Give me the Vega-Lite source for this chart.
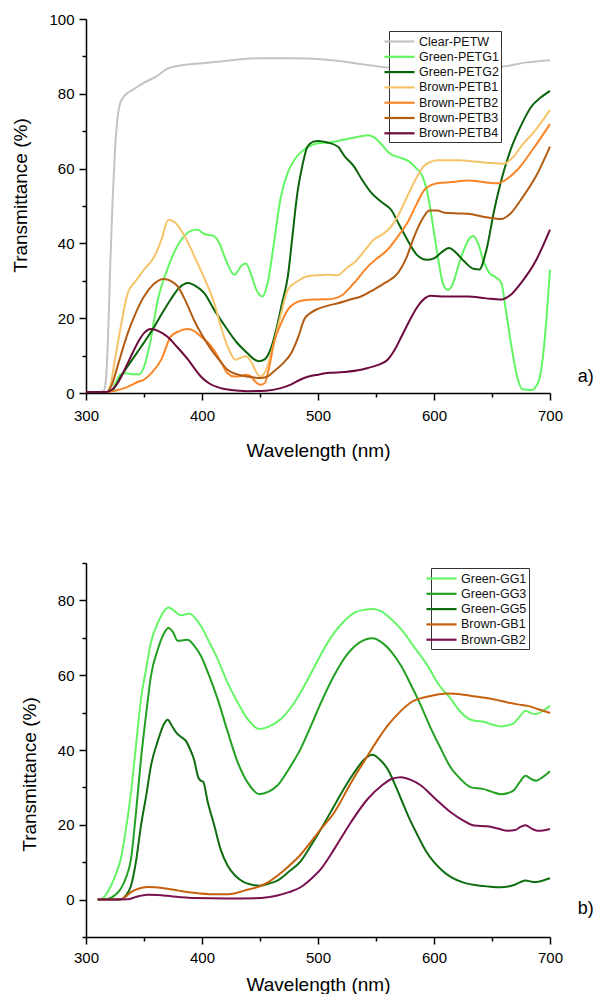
{
"$schema":"https://vega.github.io/schema/vega-lite/v6.json",
"padding":{"left":11,"top":12,"right":0,"bottom":0},
"spacing":96,
"config":{"view":{"stroke":null},"font":"Liberation Sans",
"axis":{"grid":false,"domainColor":"#000","tickColor":"#000","labelColor":"#000","titleColor":"#000","labelFontSize":15,"titleFontSize":19,"titleFontWeight":"normal","labelFont":"Liberation Sans","titleFont":"Liberation Sans","domainWidth":1.5,"tickWidth":1.5,"labelOverlap":false,"labelFlush":false},
"legend":{"orient":"none","title":null,"strokeColor":"#333","fillColor":"white","padding":2,"symbolType":"M-2.15,0H2.15","symbolSize":196,"symbolStrokeWidth":2.2,"labelFontSize":12.5,"labelFont":"Liberation Sans","labelColor":"#111","labelOffset":11,"rowPadding":0.3}},
"datasets":{
"top":[
{"s":"Clear-PETW","w":300,"t":0.3},{"s":"Clear-PETW","w":310,"t":0.3},{"s":"Clear-PETW","w":315,"t":0.5},{"s":"Clear-PETW","w":317,"t":3},{"s":"Clear-PETW","w":319,"t":15},{"s":"Clear-PETW","w":321,"t":35},{"s":"Clear-PETW","w":323,"t":52},{"s":"Clear-PETW","w":325,"t":65},{"s":"Clear-PETW","w":327,"t":73},{"s":"Clear-PETW","w":330,"t":78},{"s":"Clear-PETW","w":335,"t":80},{"s":"Clear-PETW","w":340,"t":81},{"s":"Clear-PETW","w":350,"t":83},{"s":"Clear-PETW","w":360,"t":84.5},{"s":"Clear-PETW","w":370,"t":86.7},{"s":"Clear-PETW","w":380,"t":87.5},{"s":"Clear-PETW","w":400,"t":88.2},{"s":"Clear-PETW","w":420,"t":88.8},{"s":"Clear-PETW","w":450,"t":89.5},{"s":"Clear-PETW","w":480,"t":89.5},{"s":"Clear-PETW","w":500,"t":89.3},{"s":"Clear-PETW","w":520,"t":88.7},{"s":"Clear-PETW","w":540,"t":87.8},{"s":"Clear-PETW","w":560,"t":87},{"s":"Clear-PETW","w":580,"t":86.6},{"s":"Clear-PETW","w":600,"t":86.3},{"s":"Clear-PETW","w":620,"t":86.3},{"s":"Clear-PETW","w":640,"t":86.6},{"s":"Clear-PETW","w":660,"t":87.3},{"s":"Clear-PETW","w":680,"t":88.4},{"s":"Clear-PETW","w":700,"t":89},
{"s":"Green-PETG1","w":300,"t":0.3},{"s":"Green-PETG1","w":318,"t":0.3},{"s":"Green-PETG1","w":322,"t":0.5},{"s":"Green-PETG1","w":326,"t":3},{"s":"Green-PETG1","w":330,"t":5},{"s":"Green-PETG1","w":335,"t":5.3},{"s":"Green-PETG1","w":340,"t":5},{"s":"Green-PETG1","w":346,"t":5},{"s":"Green-PETG1","w":350,"t":7},{"s":"Green-PETG1","w":355,"t":13},{"s":"Green-PETG1","w":362,"t":25},{"s":"Green-PETG1","w":370,"t":33},{"s":"Green-PETG1","w":380,"t":40},{"s":"Green-PETG1","w":390,"t":43.3},{"s":"Green-PETG1","w":396,"t":43.7},{"s":"Green-PETG1","w":402,"t":42.5},{"s":"Green-PETG1","w":410,"t":42},{"s":"Green-PETG1","w":415,"t":40},{"s":"Green-PETG1","w":420,"t":36},{"s":"Green-PETG1","w":428,"t":31.6},{"s":"Green-PETG1","w":434,"t":34},{"s":"Green-PETG1","w":438,"t":34.6},{"s":"Green-PETG1","w":442,"t":32},{"s":"Green-PETG1","w":447,"t":27.5},{"s":"Green-PETG1","w":452,"t":25.8},{"s":"Green-PETG1","w":457,"t":30},{"s":"Green-PETG1","w":462,"t":40},{"s":"Green-PETG1","w":468,"t":52.5},{"s":"Green-PETG1","w":474,"t":59},{"s":"Green-PETG1","w":480,"t":62.5},{"s":"Green-PETG1","w":490,"t":65.5},{"s":"Green-PETG1","w":500,"t":66.8},{"s":"Green-PETG1","w":510,"t":67},{"s":"Green-PETG1","w":522,"t":67.7},{"s":"Green-PETG1","w":535,"t":68.5},{"s":"Green-PETG1","w":543,"t":68.9},{"s":"Green-PETG1","w":550,"t":68},{"s":"Green-PETG1","w":556,"t":66},{"s":"Green-PETG1","w":562,"t":64},{"s":"Green-PETG1","w":570,"t":63},{"s":"Green-PETG1","w":578,"t":62},{"s":"Green-PETG1","w":585,"t":60},{"s":"Green-PETG1","w":590,"t":58},{"s":"Green-PETG1","w":594,"t":54},{"s":"Green-PETG1","w":598,"t":47},{"s":"Green-PETG1","w":603,"t":37},{"s":"Green-PETG1","w":608,"t":29},{"s":"Green-PETG1","w":612,"t":27.6},{"s":"Green-PETG1","w":616,"t":29},{"s":"Green-PETG1","w":621,"t":34},{"s":"Green-PETG1","w":626,"t":38.5},{"s":"Green-PETG1","w":631,"t":41.5},{"s":"Green-PETG1","w":634,"t":42},{"s":"Green-PETG1","w":638,"t":40},{"s":"Green-PETG1","w":643,"t":35},{"s":"Green-PETG1","w":648,"t":32},{"s":"Green-PETG1","w":653,"t":31},{"s":"Green-PETG1","w":658,"t":29.5},{"s":"Green-PETG1","w":662,"t":22},{"s":"Green-PETG1","w":667,"t":12},{"s":"Green-PETG1","w":672,"t":4},{"s":"Green-PETG1","w":676,"t":1},{"s":"Green-PETG1","w":684,"t":0.8},{"s":"Green-PETG1","w":690,"t":3},{"s":"Green-PETG1","w":694,"t":10},{"s":"Green-PETG1","w":697,"t":20},{"s":"Green-PETG1","w":700,"t":33},
{"s":"Green-PETG2","w":300,"t":0.3},{"s":"Green-PETG2","w":318,"t":0.3},{"s":"Green-PETG2","w":322,"t":0.5},{"s":"Green-PETG2","w":330,"t":4.4},{"s":"Green-PETG2","w":340,"t":9},{"s":"Green-PETG2","w":350,"t":13.5},{"s":"Green-PETG2","w":359,"t":17.8},{"s":"Green-PETG2","w":366,"t":21.5},{"s":"Green-PETG2","w":373,"t":25},{"s":"Green-PETG2","w":380,"t":28},{"s":"Green-PETG2","w":388,"t":29.4},{"s":"Green-PETG2","w":395,"t":28.5},{"s":"Green-PETG2","w":402,"t":26.7},{"s":"Green-PETG2","w":410,"t":22.5},{"s":"Green-PETG2","w":422,"t":16.9},{"s":"Green-PETG2","w":430,"t":13.5},{"s":"Green-PETG2","w":439,"t":10.7},{"s":"Green-PETG2","w":445,"t":9},{"s":"Green-PETG2","w":449,"t":8.5},{"s":"Green-PETG2","w":454,"t":9},{"s":"Green-PETG2","w":459,"t":11.6},{"s":"Green-PETG2","w":464,"t":17},{"s":"Green-PETG2","w":469,"t":24},{"s":"Green-PETG2","w":474,"t":31.2},{"s":"Green-PETG2","w":478,"t":42},{"s":"Green-PETG2","w":482,"t":53},{"s":"Green-PETG2","w":486,"t":60},{"s":"Green-PETG2","w":491,"t":65.9},{"s":"Green-PETG2","w":496,"t":67.2},{"s":"Green-PETG2","w":500,"t":67.4},{"s":"Green-PETG2","w":508,"t":67},{"s":"Green-PETG2","w":517,"t":65.9},{"s":"Green-PETG2","w":523,"t":63.3},{"s":"Green-PETG2","w":531,"t":60.6},{"s":"Green-PETG2","w":538,"t":57},{"s":"Green-PETG2","w":546,"t":53.5},{"s":"Green-PETG2","w":555,"t":51},{"s":"Green-PETG2","w":563,"t":49},{"s":"Green-PETG2","w":570,"t":45},{"s":"Green-PETG2","w":577,"t":41},{"s":"Green-PETG2","w":585,"t":37},{"s":"Green-PETG2","w":594,"t":35.6},{"s":"Green-PETG2","w":600,"t":36},{"s":"Green-PETG2","w":606,"t":37.5},{"s":"Green-PETG2","w":613,"t":38.8},{"s":"Green-PETG2","w":619,"t":37.5},{"s":"Green-PETG2","w":626,"t":35.2},{"s":"Green-PETG2","w":634,"t":33.2},{"s":"Green-PETG2","w":639,"t":33},{"s":"Green-PETG2","w":645,"t":38},{"s":"Green-PETG2","w":652,"t":49},{"s":"Green-PETG2","w":659,"t":58},{"s":"Green-PETG2","w":666,"t":65},{"s":"Green-PETG2","w":675,"t":71.5},{"s":"Green-PETG2","w":684,"t":76.6},{"s":"Green-PETG2","w":692,"t":79},{"s":"Green-PETG2","w":700,"t":80.8},
{"s":"Brown-PETB1","w":300,"t":0.3},{"s":"Brown-PETB1","w":318,"t":0.3},{"s":"Brown-PETB1","w":321,"t":2},{"s":"Brown-PETB1","w":325,"t":9},{"s":"Brown-PETB1","w":330,"t":17.8},{"s":"Brown-PETB1","w":336,"t":26.7},{"s":"Brown-PETB1","w":343,"t":30},{"s":"Brown-PETB1","w":350,"t":33},{"s":"Brown-PETB1","w":359,"t":36.5},{"s":"Brown-PETB1","w":365,"t":41},{"s":"Brown-PETB1","w":371,"t":46.3},{"s":"Brown-PETB1","w":377,"t":45.5},{"s":"Brown-PETB1","w":385,"t":41.9},{"s":"Brown-PETB1","w":396,"t":34.8},{"s":"Brown-PETB1","w":403,"t":30},{"s":"Brown-PETB1","w":410.6,"t":24},{"s":"Brown-PETB1","w":416,"t":18},{"s":"Brown-PETB1","w":422,"t":12.5},{"s":"Brown-PETB1","w":429,"t":8.9},{"s":"Brown-PETB1","w":434,"t":9.5},{"s":"Brown-PETB1","w":438,"t":9.8},{"s":"Brown-PETB1","w":443,"t":8},{"s":"Brown-PETB1","w":448,"t":5},{"s":"Brown-PETB1","w":451,"t":4.4},{"s":"Brown-PETB1","w":455,"t":6},{"s":"Brown-PETB1","w":462,"t":13.4},{"s":"Brown-PETB1","w":468,"t":21},{"s":"Brown-PETB1","w":474,"t":27.6},{"s":"Brown-PETB1","w":482,"t":29.8},{"s":"Brown-PETB1","w":491,"t":31.2},{"s":"Brown-PETB1","w":500,"t":31.5},{"s":"Brown-PETB1","w":508,"t":31.6},{"s":"Brown-PETB1","w":517,"t":31.5},{"s":"Brown-PETB1","w":525,"t":33.5},{"s":"Brown-PETB1","w":531,"t":34.8},{"s":"Brown-PETB1","w":540,"t":38},{"s":"Brown-PETB1","w":548,"t":41},{"s":"Brown-PETB1","w":556,"t":42.5},{"s":"Brown-PETB1","w":563,"t":44.5},{"s":"Brown-PETB1","w":570,"t":48},{"s":"Brown-PETB1","w":577,"t":52.6},{"s":"Brown-PETB1","w":584,"t":57},{"s":"Brown-PETB1","w":591,"t":60.6},{"s":"Brown-PETB1","w":597,"t":61.8},{"s":"Brown-PETB1","w":603,"t":62.2},{"s":"Brown-PETB1","w":620,"t":62.2},{"s":"Brown-PETB1","w":635,"t":61.9},{"s":"Brown-PETB1","w":648,"t":61.5},{"s":"Brown-PETB1","w":660,"t":61.3},{"s":"Brown-PETB1","w":668,"t":63},{"s":"Brown-PETB1","w":675,"t":65.9},{"s":"Brown-PETB1","w":688,"t":70.5},{"s":"Brown-PETB1","w":700,"t":75.7},
{"s":"Brown-PETB2","w":300,"t":0.3},{"s":"Brown-PETB2","w":320,"t":0.3},{"s":"Brown-PETB2","w":325,"t":0.6},{"s":"Brown-PETB2","w":335,"t":1.5},{"s":"Brown-PETB2","w":345,"t":3},{"s":"Brown-PETB2","w":350,"t":3.6},{"s":"Brown-PETB2","w":357,"t":5.5},{"s":"Brown-PETB2","w":365,"t":9},{"s":"Brown-PETB2","w":373,"t":15.1},{"s":"Brown-PETB2","w":380,"t":16.5},{"s":"Brown-PETB2","w":388,"t":17.1},{"s":"Brown-PETB2","w":393,"t":16.6},{"s":"Brown-PETB2","w":399,"t":15.1},{"s":"Brown-PETB2","w":405,"t":13.5},{"s":"Brown-PETB2","w":410,"t":11.6},{"s":"Brown-PETB2","w":416,"t":8.5},{"s":"Brown-PETB2","w":422,"t":5.3},{"s":"Brown-PETB2","w":428,"t":4.4},{"s":"Brown-PETB2","w":433,"t":4.5},{"s":"Brown-PETB2","w":438,"t":4.9},{"s":"Brown-PETB2","w":442,"t":4.5},{"s":"Brown-PETB2","w":446,"t":3},{"s":"Brown-PETB2","w":450,"t":2.2},{"s":"Brown-PETB2","w":454,"t":2.6},{"s":"Brown-PETB2","w":458,"t":7},{"s":"Brown-PETB2","w":462,"t":13.4},{"s":"Brown-PETB2","w":468,"t":18.5},{"s":"Brown-PETB2","w":474,"t":22.3},{"s":"Brown-PETB2","w":480,"t":24},{"s":"Brown-PETB2","w":488,"t":24.8},{"s":"Brown-PETB2","w":500,"t":25},{"s":"Brown-PETB2","w":511,"t":25.1},{"s":"Brown-PETB2","w":520,"t":26},{"s":"Brown-PETB2","w":531,"t":29.4},{"s":"Brown-PETB2","w":543,"t":33.8},{"s":"Brown-PETB2","w":551,"t":36},{"s":"Brown-PETB2","w":560,"t":38.3},{"s":"Brown-PETB2","w":568,"t":41.5},{"s":"Brown-PETB2","w":577,"t":45.5},{"s":"Brown-PETB2","w":585,"t":50.5},{"s":"Brown-PETB2","w":592,"t":54.4},{"s":"Brown-PETB2","w":603,"t":56.1},{"s":"Brown-PETB2","w":615,"t":56.4},{"s":"Brown-PETB2","w":629,"t":56.8},{"s":"Brown-PETB2","w":645,"t":56.3},{"s":"Brown-PETB2","w":655,"t":56.1},{"s":"Brown-PETB2","w":664,"t":57.5},{"s":"Brown-PETB2","w":672,"t":59.7},{"s":"Brown-PETB2","w":686,"t":65.5},{"s":"Brown-PETB2","w":700,"t":71.9},
{"s":"Brown-PETB3","w":300,"t":0.3},{"s":"Brown-PETB3","w":318,"t":0.3},{"s":"Brown-PETB3","w":322,"t":2},{"s":"Brown-PETB3","w":328,"t":8},{"s":"Brown-PETB3","w":336,"t":16},{"s":"Brown-PETB3","w":343,"t":21.5},{"s":"Brown-PETB3","w":350,"t":25.8},{"s":"Brown-PETB3","w":358,"t":29},{"s":"Brown-PETB3","w":367,"t":30.5},{"s":"Brown-PETB3","w":373,"t":30},{"s":"Brown-PETB3","w":379,"t":28.5},{"s":"Brown-PETB3","w":386,"t":24.5},{"s":"Brown-PETB3","w":393,"t":19.6},{"s":"Brown-PETB3","w":400,"t":15.5},{"s":"Brown-PETB3","w":408,"t":11.6},{"s":"Brown-PETB3","w":415,"t":8.8},{"s":"Brown-PETB3","w":422,"t":6.2},{"s":"Brown-PETB3","w":430,"t":5},{"s":"Brown-PETB3","w":439,"t":4.4},{"s":"Brown-PETB3","w":451,"t":4},{"s":"Brown-PETB3","w":457,"t":4.5},{"s":"Brown-PETB3","w":462,"t":5.8},{"s":"Brown-PETB3","w":470,"t":8},{"s":"Brown-PETB3","w":477,"t":10.7},{"s":"Brown-PETB3","w":483,"t":15},{"s":"Brown-PETB3","w":488,"t":19.6},{"s":"Brown-PETB3","w":494,"t":21.5},{"s":"Brown-PETB3","w":500,"t":22.5},{"s":"Brown-PETB3","w":508,"t":23.3},{"s":"Brown-PETB3","w":517,"t":24},{"s":"Brown-PETB3","w":528,"t":25},{"s":"Brown-PETB3","w":537,"t":25.8},{"s":"Brown-PETB3","w":548,"t":27.6},{"s":"Brown-PETB3","w":558,"t":29.5},{"s":"Brown-PETB3","w":569,"t":32.1},{"s":"Brown-PETB3","w":576,"t":36},{"s":"Brown-PETB3","w":583,"t":41.9},{"s":"Brown-PETB3","w":590,"t":46.5},{"s":"Brown-PETB3","w":596,"t":48.8},{"s":"Brown-PETB3","w":603,"t":48.8},{"s":"Brown-PETB3","w":609,"t":48.2},{"s":"Brown-PETB3","w":620,"t":48},{"s":"Brown-PETB3","w":629,"t":47.9},{"s":"Brown-PETB3","w":645,"t":47},{"s":"Brown-PETB3","w":658,"t":46.5},{"s":"Brown-PETB3","w":666,"t":48},{"s":"Brown-PETB3","w":675,"t":51.7},{"s":"Brown-PETB3","w":688,"t":58},{"s":"Brown-PETB3","w":700,"t":65.9},
{"s":"Brown-PETB4","w":300,"t":0.3},{"s":"Brown-PETB4","w":318,"t":0.3},{"s":"Brown-PETB4","w":322,"t":0.8},{"s":"Brown-PETB4","w":328,"t":3},{"s":"Brown-PETB4","w":336,"t":8},{"s":"Brown-PETB4","w":344.5,"t":13.4},{"s":"Brown-PETB4","w":350,"t":16},{"s":"Brown-PETB4","w":356,"t":17.1},{"s":"Brown-PETB4","w":363,"t":16.5},{"s":"Brown-PETB4","w":370,"t":15.1},{"s":"Brown-PETB4","w":378,"t":12.5},{"s":"Brown-PETB4","w":388,"t":8.9},{"s":"Brown-PETB4","w":393,"t":6.8},{"s":"Brown-PETB4","w":399,"t":4.4},{"s":"Brown-PETB4","w":406,"t":2.6},{"s":"Brown-PETB4","w":416,"t":1.3},{"s":"Brown-PETB4","w":425,"t":0.8},{"s":"Brown-PETB4","w":439,"t":0.5},{"s":"Brown-PETB4","w":455,"t":0.6},{"s":"Brown-PETB4","w":468,"t":1.3},{"s":"Brown-PETB4","w":477,"t":2.3},{"s":"Brown-PETB4","w":485,"t":3.6},{"s":"Brown-PETB4","w":492,"t":4.4},{"s":"Brown-PETB4","w":500,"t":4.9},{"s":"Brown-PETB4","w":510,"t":5.4},{"s":"Brown-PETB4","w":522,"t":5.6},{"s":"Brown-PETB4","w":537,"t":6.2},{"s":"Brown-PETB4","w":543,"t":6.7},{"s":"Brown-PETB4","w":552,"t":7.5},{"s":"Brown-PETB4","w":560,"t":8.9},{"s":"Brown-PETB4","w":566,"t":11.5},{"s":"Brown-PETB4","w":572,"t":15.1},{"s":"Brown-PETB4","w":580,"t":20},{"s":"Brown-PETB4","w":586,"t":23.2},{"s":"Brown-PETB4","w":592,"t":25.3},{"s":"Brown-PETB4","w":597,"t":26},{"s":"Brown-PETB4","w":610,"t":25.8},{"s":"Brown-PETB4","w":629,"t":25.8},{"s":"Brown-PETB4","w":645,"t":25.3},{"s":"Brown-PETB4","w":658,"t":25},{"s":"Brown-PETB4","w":667,"t":26.5},{"s":"Brown-PETB4","w":675,"t":29.4},{"s":"Brown-PETB4","w":688,"t":35.5},{"s":"Brown-PETB4","w":700,"t":43.7}
],
"bottom":[
{"s":"Green-GG1","w":310,"t":0},{"s":"Green-GG1","w":315,"t":0.5},{"s":"Green-GG1","w":321.5,"t":3.7},{"s":"Green-GG1","w":326,"t":7},{"s":"Green-GG1","w":330,"t":10.9},{"s":"Green-GG1","w":334,"t":18},{"s":"Green-GG1","w":338.8,"t":28.7},{"s":"Green-GG1","w":343,"t":41},{"s":"Green-GG1","w":347.4,"t":53.6},{"s":"Green-GG1","w":352,"t":62},{"s":"Green-GG1","w":356,"t":68.8},{"s":"Green-GG1","w":362,"t":74},{"s":"Green-GG1","w":367,"t":77},{"s":"Green-GG1","w":371.3,"t":78.1},{"s":"Green-GG1","w":376,"t":77.2},{"s":"Green-GG1","w":381.9,"t":76},{"s":"Green-GG1","w":386,"t":76.3},{"s":"Green-GG1","w":389,"t":76.5},{"s":"Green-GG1","w":394,"t":75.3},{"s":"Green-GG1","w":399,"t":73.2},{"s":"Green-GG1","w":406,"t":69},{"s":"Green-GG1","w":413.5,"t":64.3},{"s":"Green-GG1","w":422,"t":58},{"s":"Green-GG1","w":430.8,"t":52.7},{"s":"Green-GG1","w":440,"t":48},{"s":"Green-GG1","w":449.4,"t":45.6},{"s":"Green-GG1","w":458,"t":46.3},{"s":"Green-GG1","w":468,"t":48.3},{"s":"Green-GG1","w":477,"t":51.5},{"s":"Green-GG1","w":485,"t":55.4},{"s":"Green-GG1","w":494,"t":60.5},{"s":"Green-GG1","w":502.6,"t":65.6},{"s":"Green-GG1","w":512,"t":70.5},{"s":"Green-GG1","w":522,"t":74.3},{"s":"Green-GG1","w":532,"t":76.8},{"s":"Green-GG1","w":540,"t":77.5},{"s":"Green-GG1","w":547,"t":77.7},{"s":"Green-GG1","w":555,"t":77},{"s":"Green-GG1","w":563,"t":75},{"s":"Green-GG1","w":571.6,"t":72.3},{"s":"Green-GG1","w":583,"t":67.5},{"s":"Green-GG1","w":594.6,"t":62.5},{"s":"Green-GG1","w":604,"t":57.5},{"s":"Green-GG1","w":614.7,"t":53.6},{"s":"Green-GG1","w":622,"t":50.5},{"s":"Green-GG1","w":629,"t":48.5},{"s":"Green-GG1","w":635,"t":47.8},{"s":"Green-GG1","w":642,"t":47.6},{"s":"Green-GG1","w":650,"t":46.8},{"s":"Green-GG1","w":657.8,"t":46.3},{"s":"Green-GG1","w":664,"t":46.6},{"s":"Green-GG1","w":669,"t":47.2},{"s":"Green-GG1","w":674,"t":49},{"s":"Green-GG1","w":679,"t":50.5},{"s":"Green-GG1","w":684,"t":49.8},{"s":"Green-GG1","w":688,"t":49.6},{"s":"Green-GG1","w":694,"t":50.5},{"s":"Green-GG1","w":700,"t":51.8},
{"s":"Green-GG3","w":314,"t":0},{"s":"Green-GG3","w":320,"t":0.3},{"s":"Green-GG3","w":325,"t":1.2},{"s":"Green-GG3","w":330,"t":2.9},{"s":"Green-GG3","w":334,"t":5.5},{"s":"Green-GG3","w":338.8,"t":10.9},{"s":"Green-GG3","w":343,"t":23},{"s":"Green-GG3","w":347.4,"t":37.6},{"s":"Green-GG3","w":352,"t":50},{"s":"Green-GG3","w":356,"t":59.8},{"s":"Green-GG3","w":362,"t":67},{"s":"Green-GG3","w":367,"t":71},{"s":"Green-GG3","w":371,"t":72.6},{"s":"Green-GG3","w":375,"t":71.5},{"s":"Green-GG3","w":379,"t":69.2},{"s":"Green-GG3","w":383,"t":69.3},{"s":"Green-GG3","w":387.7,"t":69.5},{"s":"Green-GG3","w":393,"t":68},{"s":"Green-GG3","w":399,"t":65.2},{"s":"Green-GG3","w":406,"t":60},{"s":"Green-GG3","w":413.5,"t":53.6},{"s":"Green-GG3","w":422,"t":45},{"s":"Green-GG3","w":430.8,"t":36.7},{"s":"Green-GG3","w":440,"t":31},{"s":"Green-GG3","w":449.4,"t":28.2},{"s":"Green-GG3","w":457,"t":28.8},{"s":"Green-GG3","w":465,"t":30.5},{"s":"Green-GG3","w":475,"t":35},{"s":"Green-GG3","w":485,"t":40.3},{"s":"Green-GG3","w":494,"t":46.5},{"s":"Green-GG3","w":502.6,"t":52.7},{"s":"Green-GG3","w":514,"t":60},{"s":"Green-GG3","w":525,"t":65.5},{"s":"Green-GG3","w":536,"t":68.8},{"s":"Green-GG3","w":547,"t":69.9},{"s":"Green-GG3","w":556,"t":68.5},{"s":"Green-GG3","w":564,"t":66},{"s":"Green-GG3","w":571.6,"t":62.5},{"s":"Green-GG3","w":580,"t":57.5},{"s":"Green-GG3","w":588.8,"t":51.8},{"s":"Green-GG3","w":597,"t":46},{"s":"Green-GG3","w":606,"t":40.3},{"s":"Green-GG3","w":614,"t":35.5},{"s":"Green-GG3","w":623,"t":32.2},{"s":"Green-GG3","w":632,"t":30},{"s":"Green-GG3","w":642,"t":29.6},{"s":"Green-GG3","w":650,"t":28.8},{"s":"Green-GG3","w":657.8,"t":28.2},{"s":"Green-GG3","w":664,"t":28.5},{"s":"Green-GG3","w":669,"t":29.3},{"s":"Green-GG3","w":674,"t":31.5},{"s":"Green-GG3","w":679,"t":33.1},{"s":"Green-GG3","w":684,"t":32.2},{"s":"Green-GG3","w":688,"t":31.8},{"s":"Green-GG3","w":694,"t":32.8},{"s":"Green-GG3","w":700,"t":34.3},
{"s":"Green-GG5","w":310,"t":0},{"s":"Green-GG5","w":330,"t":0},{"s":"Green-GG5","w":334,"t":1},{"s":"Green-GG5","w":338.8,"t":3.7},{"s":"Green-GG5","w":343,"t":10},{"s":"Green-GG5","w":347.4,"t":19.8},{"s":"Green-GG5","w":352,"t":28},{"s":"Green-GG5","w":356,"t":35.8},{"s":"Green-GG5","w":362,"t":42.5},{"s":"Green-GG5","w":367,"t":46.8},{"s":"Green-GG5","w":370.4,"t":48.1},{"s":"Green-GG5","w":374,"t":46.5},{"s":"Green-GG5","w":377.6,"t":44.7},{"s":"Green-GG5","w":382,"t":43.5},{"s":"Green-GG5","w":386,"t":42.5},{"s":"Green-GG5","w":390,"t":40},{"s":"Green-GG5","w":393,"t":37.6},{"s":"Green-GG5","w":397,"t":32.5},{"s":"Green-GG5","w":399,"t":31.8},{"s":"Green-GG5","w":401,"t":31.5},{"s":"Green-GG5","w":405,"t":26},{"s":"Green-GG5","w":410.6,"t":19.8},{"s":"Green-GG5","w":416,"t":13.5},{"s":"Green-GG5","w":422,"t":9.1},{"s":"Green-GG5","w":429,"t":6.3},{"s":"Green-GG5","w":436.5,"t":4.6},{"s":"Green-GG5","w":443,"t":4},{"s":"Green-GG5","w":449.4,"t":3.7},{"s":"Green-GG5","w":457,"t":4.2},{"s":"Green-GG5","w":465,"t":5.1},{"s":"Green-GG5","w":475,"t":7.5},{"s":"Green-GG5","w":485,"t":10.2},{"s":"Green-GG5","w":494,"t":14.5},{"s":"Green-GG5","w":502.6,"t":18.9},{"s":"Green-GG5","w":514,"t":25.1},{"s":"Green-GG5","w":523,"t":30},{"s":"Green-GG5","w":531.3,"t":34},{"s":"Green-GG5","w":540,"t":37.5},{"s":"Green-GG5","w":547,"t":38.7},{"s":"Green-GG5","w":553,"t":37.5},{"s":"Green-GG5","w":560,"t":34.9},{"s":"Green-GG5","w":566,"t":31},{"s":"Green-GG5","w":571.6,"t":26.9},{"s":"Green-GG5","w":579,"t":21.5},{"s":"Green-GG5","w":586,"t":17.1},{"s":"Green-GG5","w":593,"t":13},{"s":"Green-GG5","w":600,"t":10},{"s":"Green-GG5","w":607,"t":7.8},{"s":"Green-GG5","w":614.7,"t":6},{"s":"Green-GG5","w":625,"t":4.6},{"s":"Green-GG5","w":635,"t":3.9},{"s":"Green-GG5","w":647,"t":3.5},{"s":"Green-GG5","w":657.8,"t":3.3},{"s":"Green-GG5","w":664,"t":3.5},{"s":"Green-GG5","w":669,"t":3.9},{"s":"Green-GG5","w":674,"t":4.6},{"s":"Green-GG5","w":679,"t":5.1},{"s":"Green-GG5","w":684,"t":4.8},{"s":"Green-GG5","w":688,"t":4.7},{"s":"Green-GG5","w":694,"t":5.1},{"s":"Green-GG5","w":700,"t":5.7},
{"s":"Brown-GB1","w":310,"t":0},{"s":"Brown-GB1","w":330,"t":0.1},{"s":"Brown-GB1","w":334,"t":0.8},{"s":"Brown-GB1","w":338.8,"t":2},{"s":"Brown-GB1","w":345,"t":2.9},{"s":"Brown-GB1","w":353,"t":3.4},{"s":"Brown-GB1","w":360,"t":3.3},{"s":"Brown-GB1","w":370.4,"t":2.9},{"s":"Brown-GB1","w":380,"t":2.4},{"s":"Brown-GB1","w":393,"t":1.8},{"s":"Brown-GB1","w":410,"t":1.4},{"s":"Brown-GB1","w":422,"t":1.4},{"s":"Brown-GB1","w":430,"t":1.8},{"s":"Brown-GB1","w":436.5,"t":2.4},{"s":"Brown-GB1","w":444,"t":3},{"s":"Brown-GB1","w":451,"t":3.7},{"s":"Brown-GB1","w":458,"t":4.8},{"s":"Brown-GB1","w":465,"t":6.4},{"s":"Brown-GB1","w":475,"t":9},{"s":"Brown-GB1","w":485,"t":12},{"s":"Brown-GB1","w":494,"t":15.5},{"s":"Brown-GB1","w":502.6,"t":18.9},{"s":"Brown-GB1","w":514,"t":23.3},{"s":"Brown-GB1","w":528,"t":31},{"s":"Brown-GB1","w":542.8,"t":38.5},{"s":"Brown-GB1","w":551,"t":42.5},{"s":"Brown-GB1","w":560,"t":46.5},{"s":"Brown-GB1","w":570,"t":50},{"s":"Brown-GB1","w":580,"t":52.7},{"s":"Brown-GB1","w":595,"t":54.3},{"s":"Brown-GB1","w":611.8,"t":55.1},{"s":"Brown-GB1","w":625,"t":54.8},{"s":"Brown-GB1","w":640.5,"t":54.1},{"s":"Brown-GB1","w":652,"t":53.5},{"s":"Brown-GB1","w":663.5,"t":52.7},{"s":"Brown-GB1","w":672,"t":52.2},{"s":"Brown-GB1","w":680.8,"t":51.8},{"s":"Brown-GB1","w":690,"t":50.9},{"s":"Brown-GB1","w":700,"t":49.9},
{"s":"Brown-GB2","w":310,"t":0},{"s":"Brown-GB2","w":336,"t":0.1},{"s":"Brown-GB2","w":343,"t":0.7},{"s":"Brown-GB2","w":353,"t":1.3},{"s":"Brown-GB2","w":362,"t":1.2},{"s":"Brown-GB2","w":370,"t":1},{"s":"Brown-GB2","w":380,"t":0.7},{"s":"Brown-GB2","w":393,"t":0.4},{"s":"Brown-GB2","w":422,"t":0.3},{"s":"Brown-GB2","w":451,"t":0.4},{"s":"Brown-GB2","w":458,"t":0.7},{"s":"Brown-GB2","w":465,"t":1.1},{"s":"Brown-GB2","w":475,"t":2},{"s":"Brown-GB2","w":485,"t":3.3},{"s":"Brown-GB2","w":494,"t":5.5},{"s":"Brown-GB2","w":502.6,"t":8.2},{"s":"Brown-GB2","w":514,"t":13.5},{"s":"Brown-GB2","w":528,"t":20.5},{"s":"Brown-GB2","w":542.8,"t":26.9},{"s":"Brown-GB2","w":555,"t":30.5},{"s":"Brown-GB2","w":564,"t":32.3},{"s":"Brown-GB2","w":571.6,"t":32.7},{"s":"Brown-GB2","w":580,"t":32},{"s":"Brown-GB2","w":588.8,"t":30.5},{"s":"Brown-GB2","w":600,"t":27.3},{"s":"Brown-GB2","w":614.7,"t":23.3},{"s":"Brown-GB2","w":625,"t":21.2},{"s":"Brown-GB2","w":635,"t":19.8},{"s":"Brown-GB2","w":646,"t":19.6},{"s":"Brown-GB2","w":655,"t":19},{"s":"Brown-GB2","w":663.5,"t":18.4},{"s":"Brown-GB2","w":670,"t":18.6},{"s":"Brown-GB2","w":675,"t":19.5},{"s":"Brown-GB2","w":679,"t":19.9},{"s":"Brown-GB2","w":684,"t":19},{"s":"Brown-GB2","w":689,"t":18.4},{"s":"Brown-GB2","w":694,"t":18.5},{"s":"Brown-GB2","w":700,"t":18.9}
]},
"vconcat":[
{"width":464,"height":374,
"layer":[
{"data":{"name":"top"},"mark":{"type":"line","strokeWidth":2,"interpolate":"monotone"},
"encoding":{
"x":{"field":"w","type":"quantitative","scale":{"domain":[300,700],"nice":false,"zero":false},
"axis":{"title":"Wavelength (nm)","values":[300,350,400,450,500,550,600,650,700],"tickCount":20,"labelExpr":"datum.value % 100 === 0 ? datum.label : ''","tickSize":{"condition":{"test":"datum.value % 100 === 0","value":7},"value":4},"labelPadding":8,"titlePadding":18,"labelOverlap":false}},
"y":{"field":"t","type":"quantitative","scale":{"domain":[0,100],"nice":false,"zero":false},
"axis":{"title":"Transmittance (%)","titleY":176,"values":[0,10,20,30,40,50,60,70,80,90,100],"tickCount":20,"labelExpr":"datum.value % 20 === 0 ? datum.label : ''","tickSize":{"condition":{"test":"datum.value % 20 === 0","value":7},"value":4},"labelPadding":5,"titlePadding":18,"labelOverlap":false}},
"color":{"field":"s","type":"nominal","scale":{"domain":["Clear-PETW","Green-PETG1","Green-PETG2","Brown-PETB1","Brown-PETB2","Brown-PETB3","Brown-PETB4"],"range":["#c3c3c3","#62f562","#0a640a","#f5c46a","#fb8526","#b35c13","#6d0b3f"]},
"legend":{"legendX":303,"legendY":12}},
"order":{"field":"w","type":"quantitative"}}},
{"data":{"values":[{"label":"a)"}]},"mark":{"type":"text","align":"left","baseline":"middle","fontSize":18,"font":"Liberation Sans","color":"#000"},
"encoding":{"x":{"datum":724,"type":"quantitative"},"y":{"datum":4.4,"type":"quantitative"},"text":{"field":"label","type":"nominal"}}}
]},
{"width":464,"height":374,
"layer":[
{"data":{"name":"bottom"},"mark":{"type":"line","strokeWidth":2,"interpolate":"monotone"},
"encoding":{
"x":{"field":"w","type":"quantitative","scale":{"domain":[300,700],"nice":false,"zero":false},
"axis":{"title":"Wavelength (nm)","values":[300,350,400,450,500,550,600,650,700],"tickCount":20,"labelExpr":"datum.value % 100 === 0 ? datum.label : ''","tickSize":{"condition":{"test":"datum.value % 100 === 0","value":7},"value":4},"labelPadding":6,"titlePadding":10,"labelOverlap":false}},
"y":{"field":"t","type":"quantitative","scale":{"domain":[-10,90],"nice":false,"zero":false},
"axis":{"title":"Transmittance (%)","titleY":211,"values":[-10,0,10,20,30,40,50,60,70,80,90],"tickCount":20,"labelExpr":"datum.value % 20 === 0 ? datum.label : ''","tickSize":{"condition":{"test":"datum.value % 20 === 0","value":7},"value":4},"labelPadding":5,"titlePadding":18,"labelOverlap":false}},
"color":{"field":"s","type":"nominal","scale":{"domain":["Green-GG1","Green-GG3","Green-GG5","Brown-GB1","Brown-GB2"],"range":["#66f566","#22a022","#0f6e0f","#c6600c","#7a1150"]},
"legend":{"legendX":345,"legendY":5}},
"order":{"field":"w","type":"quantitative"}}},
{"data":{"values":[{"label":"b)"}]},"mark":{"type":"text","align":"left","baseline":"middle","fontSize":18,"font":"Liberation Sans","color":"#000"},
"encoding":{"x":{"datum":724,"type":"quantitative"},"y":{"datum":-2.5,"type":"quantitative"},"text":{"field":"label","type":"nominal"}}}
]}
],
"resolve":{"scale":{"x":"independent","y":"independent","color":"independent"},"legend":{"color":"independent"}}
}
